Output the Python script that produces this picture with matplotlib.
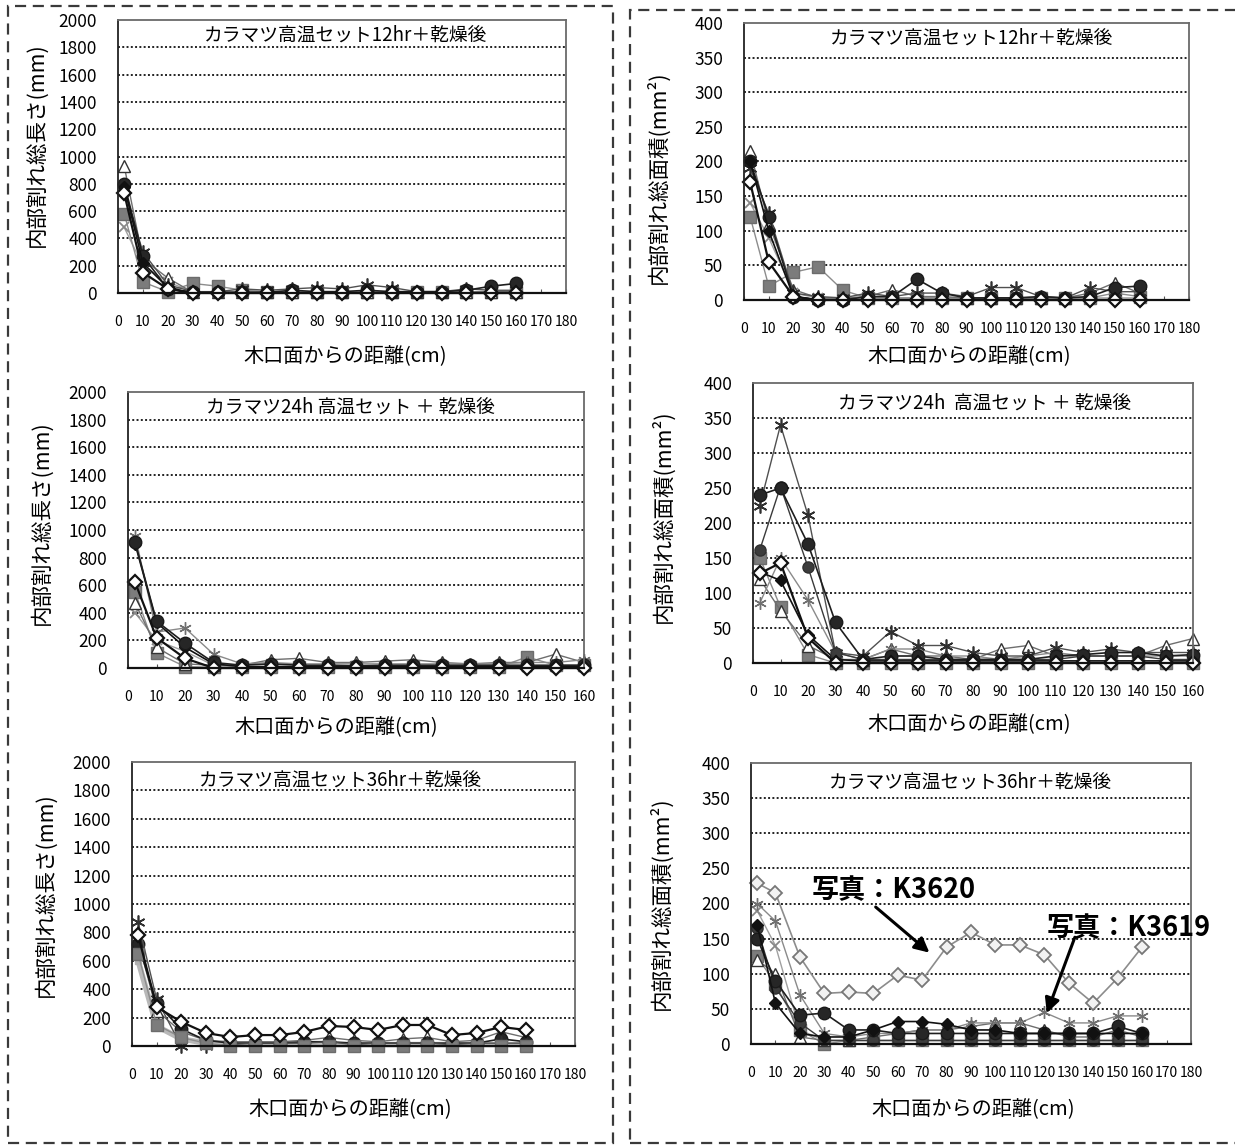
import matplotlib.pyplot as plt
from matplotlib.patches import Rectangle

plt.rcParams["font.family"] = ["Noto Sans CJK JP", "DejaVu Sans"]

W, H = 1235, 1146

# distance from the end face (cm)
distance = [2.5, 10, 20, 30, 40, 50, 60, 70, 80, 90, 100, 110, 120, 130, 140, 150, 160]

# --- 12hr, total crack length (mm)
len12_circle = [800, 270, 30, 5, 5, 5, 5, 20, 10, 10, 20, 10, 10, 10, 20, 50, 70]
len12_square = [580, 80, 10, 70, 50, 20, 10, 5, 5, 5, 5, 5, 5, 5, 5, 10, 10]
len12_triangle = [930, 250, 110, 5, 5, 5, 5, 5, 5, 5, 5, 5, 5, 5, 5, 10, 10]
len12_asterisk = [760, 300, 60, 10, 10, 30, 20, 30, 40, 30, 60, 40, 10, 10, 30, 20, 20]
len12_xmark = [480, 200, 80, 10, 5, 5, 5, 5, 5, 5, 5, 5, 5, 5, 5, 5, 5]
len12_fdiamond = [780, 220, 40, 0, 0, 0, 0, 0, 0, 0, 0, 0, 0, 0, 0, 0, 0]
len12_diamond = [730, 150, 30, 0, 0, 0, 0, 0, 0, 0, 0, 0, 0, 0, 0, 0, 0]

# --- 12hr, total crack area (mm2)
area12_circle = [200, 120, 5, 0, 0, 5, 5, 30, 10, 3, 3, 3, 5, 3, 5, 18, 20]
area12_square = [120, 20, 40, 48, 14, 3, 3, 3, 3, 3, 3, 3, 3, 3, 3, 10, 5]
area12_triangle = [215, 110, 15, 3, 3, 5, 15, 5, 5, 3, 3, 3, 3, 3, 10, 25, 10]
area12_asterisk = [190, 125, 10, 5, 3, 10, 5, 10, 10, 5, 18, 18, 5, 3, 18, 12, 12]
area12_xmark = [140, 90, 10, 3, 3, 3, 3, 3, 3, 3, 3, 3, 3, 3, 3, 3, 3]
area12_fdiamond = [200, 100, 5, 0, 0, 0, 0, 0, 0, 0, 0, 0, 0, 0, 0, 0, 0]
area12_diamond = [170, 55, 5, 0, 0, 0, 0, 0, 0, 0, 0, 0, 0, 0, 0, 0, 0]

# --- 24h, total crack length (mm)
len24_circle = [910, 340, 180, 40, 20, 30, 20, 20, 15, 20, 20, 20, 20, 20, 20, 20, 20]
len24_square = [550, 110, 10, 5, 5, 5, 5, 5, 5, 5, 5, 5, 5, 5, 80, 20, 20]
len24_triangle = [470, 150, 30, 20, 20, 60, 70, 40, 40, 50, 60, 40, 30, 40, 40, 100, 40]
len24_asterisk = [960, 260, 290, 100, 30, 40, 30, 30, 30, 30, 30, 30, 30, 30, 40, 40, 60]
len24_xmark = [400, 200, 120, 20, 10, 10, 10, 10, 10, 10, 10, 10, 10, 10, 10, 10, 10]
len24_fdiamond = [900, 330, 150, 30, 10, 10, 10, 10, 10, 10, 10, 10, 10, 10, 10, 10, 10]
len24_diamond = [620, 220, 70, 0, 0, 0, 0, 0, 0, 0, 0, 0, 0, 0, 0, 0, 0]

# --- 24h, total crack area (mm2)
area24_circle = [240, 250, 170, 58, 5, 10, 10, 5, 5, 5, 5, 10, 12, 15, 15, 10, 12]
area24_circle2 = [162, 252, 137, 15, 5, 5, 5, 5, 5, 5, 5, 5, 10, 10, 10, 5, 5]
area24_square = [150, 80, 12, 0, 0, 0, 0, 0, 0, 0, 0, 0, 0, 0, 0, 0, 0]
area24_triangle = [120, 75, 25, 5, 5, 20, 10, 10, 5, 20, 25, 10, 10, 10, 10, 25, 35]
area24_asterisk = [225, 340, 211, 15, 10, 45, 25, 25, 15, 10, 10, 22, 15, 20, 15, 15, 15]
area24_asterisk2 = [86, 150, 90, 15, 5, 20, 20, 10, 10, 5, 10, 15, 10, 10, 10, 10, 10]
area24_fdiamond = [130, 118, 40, 5, 3, 3, 3, 3, 3, 3, 3, 3, 3, 3, 3, 3, 3]
area24_diamond = [128, 143, 36, 0, 0, 0, 0, 0, 0, 0, 0, 0, 0, 0, 0, 0, 0]

# --- 36hr, total crack length (mm)
len36_grey = [600, 140, 50, 20, 10, 10, 10, 10, 10, 10, 10, 10, 10, 10, 10, 10, 10]
len36_circle = [720, 300, 120, 40, 20, 20, 20, 30, 30, 20, 20, 20, 20, 20, 20, 50, 30]
len36_square = [650, 150, 60, 20, 0, 0, 0, 0, 0, 0, 0, 0, 0, 0, 0, 0, 0]
len36_triangle = [740, 250, 100, 40, 30, 30, 30, 40, 60, 40, 30, 50, 60, 30, 40, 100, 60]
len36_asterisk = [870, 330, 0, 0, 10, 20, 20, 20, 30, 10, 20, 20, 20, 10, 20, 20, 20]
len36_diamond = [780, 275, 170, 92, 63, 77, 77, 99, 141, 134, 113, 148, 148, 77, 92, 134, 113]

# --- 36hr, total crack area (mm2)
area36_circle = [150, 90, 41, 44, 20, 20, 15, 15, 15, 15, 15, 15, 15, 15, 15, 25, 15]
area36_circle2 = [165, 80, 30, 5, 5, 5, 5, 5, 5, 5, 5, 5, 5, 5, 5, 5, 5]
area36_fdiamond = [170, 58, 15, 10, 10, 20, 32, 32, 28, 20, 20, 15, 15, 15, 15, 15, 15]
area36_asterisk = [200, 175, 70, 15, 10, 15, 15, 20, 20, 30, 30, 30, 45, 30, 30, 40, 40]
area36_triangle = [120, 100, 10, 5, 5, 10, 15, 20, 20, 25, 30, 30, 20, 10, 10, 20, 10]
area36_square = [125, 85, 20, 0, 5, 5, 5, 5, 5, 5, 5, 5, 5, 5, 5, 5, 5]
area36_xmark = [190, 140, 20, 5, 5, 5, 5, 5, 5, 5, 5, 5, 5, 5, 5, 5, 5]
area36_k3620 = [229, 215, 124, 72, 74, 72, 98, 91, 138, 159, 141, 141, 127, 87, 58, 94, 138]

STYLES = {
    "grey": dict(marker="s", color="#b8b8b8", mfc="#b0b0b0", mec="#b0b0b0", lw=4, ms=5),
    "square": dict(marker="s", color="#8c8c8c", mfc="#7c7c7c", mec="#6c6c6c", lw=1.0, ms=8),
    "xmark": dict(marker="x", color="#a0a0a0", mec="#888888", lw=1.0, ms=7, mew=1.3),
    "triangle": dict(marker="^", color="#6e6e6e", mfc="white", mec="#333333", lw=1.0, ms=8),
    "asterisk": dict(marker=(6, 2, 0), color="#505050", mec="#303030", lw=1.0, ms=10, mew=1.2),
    "asterisk2": dict(marker=(6, 2, 0), color="#8a8a8a", mec="#707070", lw=1.0, ms=9, mew=1.0),
    "circle": dict(marker="o", color="#1e1e1e", mfc="#262626", mec="#1a1a1a", lw=1.2, ms=9),
    "circle2": dict(marker="o", color="#3a3a3a", mfc="#3c3c3c", mec="#303030", lw=1.0, ms=8),
    "fdiamond": dict(marker="D", color="#111111", mfc="#111111", mec="#111111", lw=1.2, ms=6),
    "diamond": dict(marker="D", color="#111111", mfc="white", mec="#111111", lw=1.6, ms=7.5, mew=1.6),
    "k3620": dict(marker="D", color="#8c8c8c", mfc="#f2f2f2", mec="#777777", lw=1.2, ms=7, mew=1.3),
}

fig = plt.figure(figsize=(W / 100, H / 100), dpi=100)


def px_axes(left, top, right, bottom):
    return fig.add_axes([left / W, 1 - bottom / H, (right - left) / W, (bottom - top) / H])


def fig_text(x, y, s, **kw):
    fig.text(x / W, 1 - y / H, s, ha="center", va="center", **kw)


def draw_panel(ax, series, ymax, ystep, xmax):
    for values, key in series:
        ax.plot(distance, values, clip_on=False, **STYLES[key])
    ax.set_xlim(0, xmax)
    ax.set_ylim(0, ymax)
    ax.set_xticks(range(0, xmax + 1, 10))
    ax.set_yticks(range(0, ymax + 1, ystep))
    ax.tick_params(axis="x", direction="in", length=3, color="#555555", pad=16, labelsize=10)
    ax.tick_params(axis="y", length=0, pad=15, labelsize=12.5)
    for y in range(ystep, ymax, ystep):
        ax.axhline(y, color="#222222", lw=1.4, ls=(0, (1, 1.2)), zorder=0)
    for side in ["top", "left", "right"]:
        ax.spines[side].set_color("#6a6a6a")
        ax.spines[side].set_linewidth(1.3)
    ax.spines["left"].set_color("#222222")
    ax.spines["bottom"].set_color("#111111")
    ax.spines["bottom"].set_linewidth(1.6)


ylabel_len = "内部割れ総長さ(mm)"
ylabel_area = "内部割れ総面積(mm²)"
xlabel = "木口面からの距離(cm)"

# top left
ax1 = px_axes(118, 20, 566, 293)
draw_panel(ax1, [(len12_xmark, "xmark"), (len12_square, "square"), (len12_triangle, "triangle"),
                 (len12_asterisk, "asterisk"), (len12_circle, "circle"),
                 (len12_fdiamond, "fdiamond"), (len12_diamond, "diamond")], 2000, 200, 180)
fig_text(346, 35, "カラマツ高温セット12hr＋乾燥後", fontsize=13.5)
fig_text(36, 145, ylabel_len, fontsize=15.5, rotation=90)
fig_text(345, 357, xlabel, fontsize=14.5)

# top right
ax2 = px_axes(744, 23, 1189, 300)
draw_panel(ax2, [(area12_xmark, "xmark"), (area12_square, "square"), (area12_triangle, "triangle"),
                 (area12_asterisk, "asterisk"), (area12_circle, "circle"),
                 (area12_fdiamond, "fdiamond"), (area12_diamond, "diamond")], 400, 50, 180)
fig_text(972, 38, "カラマツ高温セット12hr＋乾燥後", fontsize=13.5)
fig_text(658, 177, ylabel_area, fontsize=15.5, rotation=90)
fig_text(969, 357, xlabel, fontsize=14.5)

# middle left
ax3 = px_axes(128, 392, 584, 668)
draw_panel(ax3, [(len24_xmark, "xmark"), (len24_square, "square"), (len24_triangle, "triangle"),
                 (len24_asterisk, "asterisk2"), (len24_fdiamond, "fdiamond"),
                 (len24_circle, "circle"), (len24_diamond, "diamond")], 2000, 200, 160)
fig_text(350, 407, "カラマツ24h 高温セット ＋ 乾燥後", fontsize=13.5)
fig_text(41, 523, ylabel_len, fontsize=15.5, rotation=90)
fig_text(336, 728, xlabel, fontsize=14.5)

# middle right
ax4 = px_axes(753, 383, 1193, 663)
draw_panel(ax4, [(area24_square, "square"), (area24_triangle, "triangle"),
                 (area24_asterisk2, "asterisk2"), (area24_asterisk, "asterisk"),
                 (area24_fdiamond, "fdiamond"), (area24_circle2, "circle2"),
                 (area24_circle, "circle"), (area24_diamond, "diamond")], 400, 50, 160)
fig_text(985, 403, "カラマツ24h  高温セット ＋ 乾燥後", fontsize=13.5)
fig_text(663, 516, ylabel_area, fontsize=15.5, rotation=90)
fig_text(969, 725, xlabel, fontsize=14.5)

# bottom left
ax5 = px_axes(132, 762, 575, 1046)
draw_panel(ax5, [(len36_grey, "grey"), (len36_triangle, "triangle"), (len36_circle, "circle"),
                 (len36_asterisk, "asterisk"), (len36_square, "square"),
                 (len36_diamond, "diamond")], 2000, 200, 180)
fig_text(341, 780, "カラマツ高温セット36hr＋乾燥後", fontsize=13.5)
fig_text(45, 895, ylabel_len, fontsize=15.5, rotation=90)
fig_text(350, 1110, xlabel, fontsize=14.5)

# bottom right
ax6 = px_axes(751, 763, 1191, 1044)
draw_panel(ax6, [(area36_xmark, "xmark"), (area36_square, "square"), (area36_triangle, "triangle"),
                 (area36_asterisk, "asterisk2"), (area36_circle2, "circle2"),
                 (area36_circle, "circle"), (area36_fdiamond, "fdiamond"),
                 (area36_k3620, "k3620")], 400, 50, 180)
fig_text(971, 782, "カラマツ高温セット36hr＋乾燥後", fontsize=13.5)
fig_text(661, 903, ylabel_area, fontsize=15.5, rotation=90)
fig_text(973, 1110, xlabel, fontsize=14.5)

ax6.text(25, 219, "写真：K3620", fontsize=19.5, fontweight="bold", va="center", ha="left")
ax6.text(121, 165, "写真：K3619", fontsize=19.5, fontweight="bold", va="center", ha="left",
         clip_on=False)
arrow = dict(arrowstyle="-|>", color="black", lw=2.2, mutation_scale=22, shrinkA=0, shrinkB=0)
ax6.annotate("", xy=(73, 130), xytext=(51, 195), arrowprops=arrow)
ax6.annotate("", xy=(121, 44), xytext=(132.5, 152), arrowprops=arrow)

# dashed frames around the two columns
dash = dict(fill=False, ec="#3a3a3a", lw=1.6, ls=(0, (5, 3)))
fig.add_artist(Rectangle((8 / W, 1 - 1143 / H), (613 - 8) / W, (1143 - 6) / H,
                         transform=fig.transFigure, **dash))
fig.add_artist(Rectangle((630 / W, 1 - 1143 / H), (1245 - 630) / W, (1143 - 10) / H,
                         transform=fig.transFigure, **dash))

fig.savefig("out.png", dpi=100, facecolor="white")
